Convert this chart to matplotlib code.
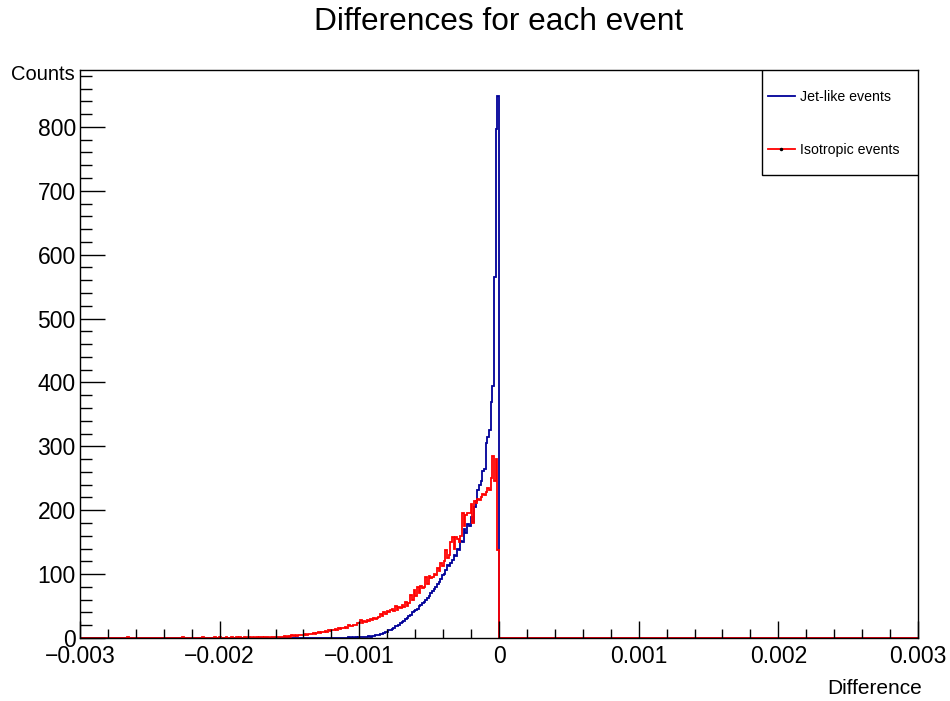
import numpy as np
import matplotlib
matplotlib.use("Agg")
import matplotlib.pyplot as plt
from matplotlib.ticker import MultipleLocator, FuncFormatter
from matplotlib.lines import Line2D
from matplotlib.patches import Rectangle

plt.rcParams["font.family"] = ["Liberation Sans", "DejaVu Sans"]

x_min, x_max, n_bins = -0.003, 0.003, 500

# counts per bin, starting from the bin just left of 0 and going outward
jet_counts = [
    848, 796, 565, 395, 370, 325, 315, 305, 265, 262,
    245, 240, 232, 215, 205, 182, 190, 175, 178, 165,
    170, 150, 152, 138, 140, 128, 130, 122, 118, 112,
    114, 106, 100, 98, 92, 88, 84, 80, 76, 74,
    70, 66, 63, 60, 57, 54, 52, 50, 46, 44,
    42, 40, 36, 34, 31, 29, 27, 25, 23, 21,
    19, 18, 16, 14, 13, 12, 10, 9, 8, 7,
    6, 5, 5, 4, 3, 3, 2, 3, 2, 1,
    2, 1, 1, 1, 0, 1, 0, 1, 0, 1,
]
iso_counts = [
    138, 280, 245, 285, 250, 232, 235, 228, 224, 226,
    220, 216, 218, 212, 214, 180, 210, 195, 196, 192,
    175, 195, 160, 150, 155, 158, 140, 158, 150, 130,
    125, 138, 120, 112, 118, 105, 110, 98, 100, 96,
    94, 97, 85, 96, 80, 78, 82, 70, 80, 65,
    75, 60, 68, 55, 50, 57, 48, 52, 47, 48,
    44, 50, 42, 45, 44, 40, 42, 38, 40, 35,
    37, 33, 32, 30, 31, 28, 30, 27, 28, 25,
    27, 24, 28, 24, 23, 20, 21, 19, 18, 20,
    16, 17, 15, 16, 14, 15, 13, 14, 12, 13,
    11, 12, 10, 11, 9, 10, 8, 9, 8, 7,
    8, 6, 7, 6, 5, 6, 5, 4, 5, 4,
    3, 4, 3, 4, 2, 3, 2, 3, 2, 1,
    2, 1, 2, 1, 2, 1, 0, 1, 1, 2,
    0, 1, 1, 0, 1, 0, 1, 0, 1, 1,
    0, 1, 0, 0, 1, 0, 1, 0, 0, 1,
    0, 0, 1, 0, 0, 0, 1, 0, 0, 1,
    0, 0, 0, 0, 0, 0, 1, 0, 0, 0,
    0, 0, 0, 0, 0, 0, 0, 0, 1, 0,
    0, 0, 0, 0, 0, 0, 0, 0, 0, 0,
    0, 0, 0, 0, 0, 0, 0, 0, 0, 0,
    0, 0, 0, 0, 0, 0, 0, 0, 0, 0,
    0, 1,
]

edges = np.linspace(x_min, x_max, n_bins + 1)
mid = n_bins // 2


def fill_hist(counts):
    h = np.zeros(n_bins)
    h[mid - len(counts):mid] = counts[::-1]
    return h


jet = fill_hist(jet_counts)
iso = fill_hist(iso_counts)

fig = plt.figure(figsize=(9.5, 7.01), dpi=100)
ax = fig.add_axes([80 / 950, 63 / 701, 838 / 950, 568 / 701])

blue = "#000099"
red = "#ff0000"
ax.stairs(jet, edges, color=blue, lw=1.3)
ax.stairs(iso, edges, color=red, lw=1.3)

ax.set_xlim(x_min, x_max)
ax.set_ylim(0, 889)

ax.xaxis.set_major_locator(MultipleLocator(0.001))
ax.xaxis.set_minor_locator(MultipleLocator(0.0002))
ax.yaxis.set_major_locator(MultipleLocator(100))
ax.yaxis.set_minor_locator(MultipleLocator(20))
ax.xaxis.set_major_formatter(
    FuncFormatter(lambda v, _: ("%g" % round(v, 6)).replace("-", "\u2212")))

ax.tick_params(axis="both", which="both", direction="in", top=False, right=False,
               labelsize=16.5, width=1, color="black")
ax.tick_params(axis="x", which="major", length=12.2, pad=5)
ax.tick_params(axis="x", which="minor", length=6.5)
ax.tick_params(axis="y", which="major", length=18, pad=3)
ax.tick_params(axis="y", which="minor", length=8.6)
for s in ax.spines.values():
    s.set_linewidth(1)
    s.set_color("black")

fig.text(0.5 * (80 + 918) / 950, 1 - 22 / 701, "Differences for each event",
         ha="center", va="center", fontsize=22.8)
fig.text(75 / 950, 1 - 75 / 701, "Counts", ha="right", va="center", fontsize=14.5)
fig.text(922 / 950, 1 - 688 / 701, "Difference", ha="right", va="center", fontsize=15)

# legend box (ROOT TLegend style) in the upper right corner
ax.add_patch(Rectangle((682 / 838, 1 - 105 / 568), 156 / 838, 105 / 568,
                       transform=ax.transAxes, facecolor="white",
                       edgecolor="black", lw=1, zorder=4))
handles = [
    Line2D([], [], color=blue, lw=1.3),
    Line2D([], [], color=red, lw=1.3, marker="o", markersize=1.5,
           markerfacecolor="black", markeredgecolor="black"),
]
leg = ax.legend(handles, ["Jet-like events", "Isotropic events"],
                loc="upper left", bbox_to_anchor=(688 / 838, 1 - 20 / 568),
                borderaxespad=0, borderpad=0, fontsize=10.2, handlelength=1.9,
                handletextpad=0.35, labelspacing=2.75, frameon=False, numpoints=1)
leg.set_zorder(5)

fig.savefig("out.png", dpi=100)
